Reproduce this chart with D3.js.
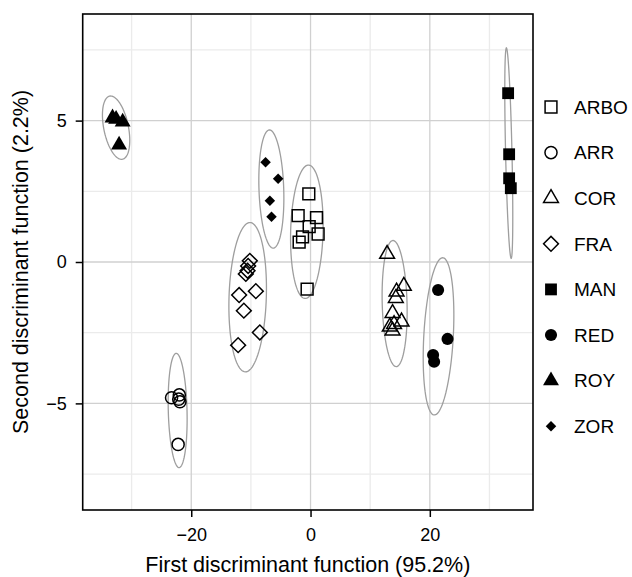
<!DOCTYPE html>
<html>
<head>
<meta charset="utf-8">
<script src="https://cdn.jsdelivr.net/npm/d3@7"></script>
<style>
  body { margin: 0; background: #fff; }
  text { font-family: "Liberation Sans", Arial, sans-serif; fill: #000; }
</style>
</head>
<body>
<div id="chart"></div>
<script>
// Data
var groups = ["ARBO", "ARR", "COR", "FRA", "MAN", "RED", "ROY", "ZOR"];

var ARBO = [[-0.29, 2.41], [-2.08, 1.64], [1.0, 1.57], [-0.23, 1.25], [1.27, 0.99], [-1.34, 0.89], [-1.91, 0.70], [-0.57, -0.96]];
var ARR = [[-23.3, -4.8], [-22.0, -4.7], [-21.9, -4.94], [-22.1, -4.85], [-22.2, -6.45]];
var COR = [[12.84, 0.28], [15.64, -0.85], [14.42, -1.05], [14.3, -1.28], [13.75, -1.81], [15.26, -2.11], [13.29, -2.29], [13.75, -2.43], [14.0, -2.2]];
var FRA = [[-10.18, 0.04], [-10.46, -0.14], [-10.56, -0.31], [-10.85, -0.42], [-11.97, -1.17], [-9.17, -1.03], [-11.18, -1.72], [-8.5, -2.49], [-12.14, -2.94]];
var MAN = [[33.13, 5.97], [33.3, 3.81], [33.3, 2.96], [33.58, 2.61]];
var RED = [[21.39, -0.99], [22.97, -2.72], [20.55, -3.29], [20.72, -3.53]];
var ROY = [[-33.2, 5.1], [-32.6, 5.05], [-31.5, 4.95], [-32.1, 4.14]];
var ZOR = [[-7.54, 3.53], [-5.43, 2.94], [-6.82, 2.17], [-6.54, 1.6]];

var groupPoints = [ARBO, ARR, COR, FRA, MAN, RED, ROY, ZOR];

// ellipse per group: centre, half extents, correlation
var ellCx = [-0.62, -22.28, 14.1, -10.54, 33.24, 21.46, -32.6, -6.57];
var ellCy = [1.07, -5.25, -1.47, -1.245, 3.85, -2.63, 4.75, 2.58];
var ellSx = [2.73, 1.59, 2.1, 3.15, 0.67, 2.57, 2.29, 2.1];
var ellSy = [2.36, 2.02, 2.23, 2.64, 3.72, 2.78, 1.12, 2.09];
var ellRho = [0.1, -0.15, -0.13, 0.12, -0.6, 0.27, -0.4, -0.15];

var xTicks = [-20, 0, 20];
var yTicks = [-5, 0, 5];
var xMinor = [-30, -10, 10, 30];
var yMinor = [-7.5, -2.5, 2.5, 7.5];

// Chart setup
var svgWidth = 632;
var svgHeight = 577;
var panel = { left: 82.7, right: 533, top: 14, bottom: 510 };

var svg = d3.select("#chart").append("svg")
    .attr("width", svgWidth)
    .attr("height", svgHeight);

var x = d3.scaleLinear().domain([-38.2, 37.3]).range([panel.left, panel.right]);
var y = d3.scaleLinear().domain([-8.77, 8.77]).range([panel.bottom, panel.top]);

// Grid
svg.selectAll(".xminor").data(xMinor).enter().append("line")
    .attr("x1", d => x(d)).attr("x2", d => x(d))
    .attr("y1", panel.top).attr("y2", panel.bottom)
    .attr("stroke", "#ebebeb").attr("stroke-width", 1.3);
svg.selectAll(".yminor").data(yMinor).enter().append("line")
    .attr("y1", d => y(d)).attr("y2", d => y(d))
    .attr("x1", panel.left).attr("x2", panel.right)
    .attr("stroke", "#ebebeb").attr("stroke-width", 1.3);
svg.selectAll(".xmajor").data(xTicks).enter().append("line")
    .attr("x1", d => x(d)).attr("x2", d => x(d))
    .attr("y1", panel.top).attr("y2", panel.bottom)
    .attr("stroke", "#d0d0d0").attr("stroke-width", 1.3);
svg.selectAll(".ymajor").data(yTicks).enter().append("line")
    .attr("y1", d => y(d)).attr("y2", d => y(d))
    .attr("x1", panel.left).attr("x2", panel.right)
    .attr("stroke", "#d0d0d0").attr("stroke-width", 1.3);

// Ellipses
var ellLine = d3.line().x(d => x(d[0])).y(d => y(d[1]));
groups.forEach(function(g, i) {
    var delta = Math.acos(ellRho[i]);
    var pts = d3.range(0, 101).map(function(k) {
        var t = k / 100 * 2 * Math.PI;
        return [ellCx[i] + ellSx[i] * Math.cos(t), ellCy[i] + ellSy[i] * Math.cos(t + delta)];
    });
    svg.append("path")
        .attr("d", ellLine(pts) + "Z")
        .attr("fill", "none")
        .attr("stroke", "#9e9e9e")
        .attr("stroke-width", 1.3);
});

// Shapes per group
var shapes = [
    { type: d3.symbolSquare, size: 140, fill: false, rot: 0 },
    { type: d3.symbolCircle, size: 115, fill: false, rot: 0 },
    { type: d3.symbolTriangle, size: 95, fill: false, rot: 0 },
    { type: d3.symbolSquare, size: 110, fill: false, rot: 45 },
    { type: d3.symbolSquare, size: 140, fill: true, rot: 0 },
    { type: d3.symbolCircle, size: 115, fill: true, rot: 0 },
    { type: d3.symbolTriangle, size: 110, fill: true, rot: 0 },
    { type: d3.symbolSquare, size: 55, fill: true, rot: 45 }
];

function drawSymbol(sel, i) {
    var s = shapes[i];
    sel.attr("d", d3.symbol().type(s.type).size(s.size)())
        .attr("fill", s.fill ? "#000" : "none")
        .attr("stroke", s.fill ? "none" : "#000")
        .attr("stroke-width", 1.5);
}

groups.forEach(function(g, i) {
    svg.selectAll(null)
        .data(groupPoints[i])
        .enter()
        .append("path")
        .attr("transform", d => `translate(${x(d[0])},${y(d[1])}) rotate(${shapes[i].rot})`)
        .call(drawSymbol, i);
});

// Panel border
svg.append("rect")
    .attr("x", panel.left).attr("y", panel.top)
    .attr("width", panel.right - panel.left)
    .attr("height", panel.bottom - panel.top)
    .attr("fill", "none").attr("stroke", "#000").attr("stroke-width", 1.6);

// Axes
var minusFmt = d => d < 0 ? "\u2212" + Math.abs(d) : d;
var bottomAxis = d3.axisBottom(x).tickValues(xTicks).tickSize(7).tickPadding(11).tickFormat(minusFmt);
var leftAxis = d3.axisLeft(y).tickValues(yTicks).tickSize(7).tickPadding(9).tickFormat(minusFmt);

var gx = svg.append("g").attr("transform", `translate(0, ${panel.bottom})`).call(bottomAxis);
var gy = svg.append("g").attr("transform", `translate(${panel.left}, 0)`).call(leftAxis);
[gx, gy].forEach(function(a) {
    a.select(".domain").remove();
    a.selectAll(".tick line").attr("stroke", "#000").attr("stroke-width", 1.5);
    a.selectAll(".tick text").attr("font-size", "18px").attr("fill", "#000")
        .attr("font-family", "Liberation Sans, Arial, sans-serif");
});

// Axis titles
svg.append("text")
    .attr("x", (panel.left + panel.right) / 2)
    .attr("y", 572)
    .attr("text-anchor", "middle")
    .attr("font-size", "21.5px")
    .text("First discriminant function (95.2%)");

svg.append("text")
    .attr("transform", `translate(28, ${(panel.top + panel.bottom) / 2}) rotate(-90)`)
    .attr("text-anchor", "middle")
    .attr("font-size", "21.5px")
    .text("Second discriminant function (2.2%)");

// Legend
var legend = svg.selectAll(".legend")
    .data(groups)
    .enter()
    .append("g")
    .attr("transform", (d, i) => `translate(551, ${107 + i * 45.6})`);

legend.each(function(g, i) {
    d3.select(this).append("path")
        .attr("transform", `rotate(${shapes[i].rot})`)
        .call(drawSymbol, i);
    d3.select(this).append("text")
        .attr("x", 23)
        .attr("dy", "0.36em")
        .attr("font-size", "19px")
        .text(g);
});
</script>
</body>
</html>
